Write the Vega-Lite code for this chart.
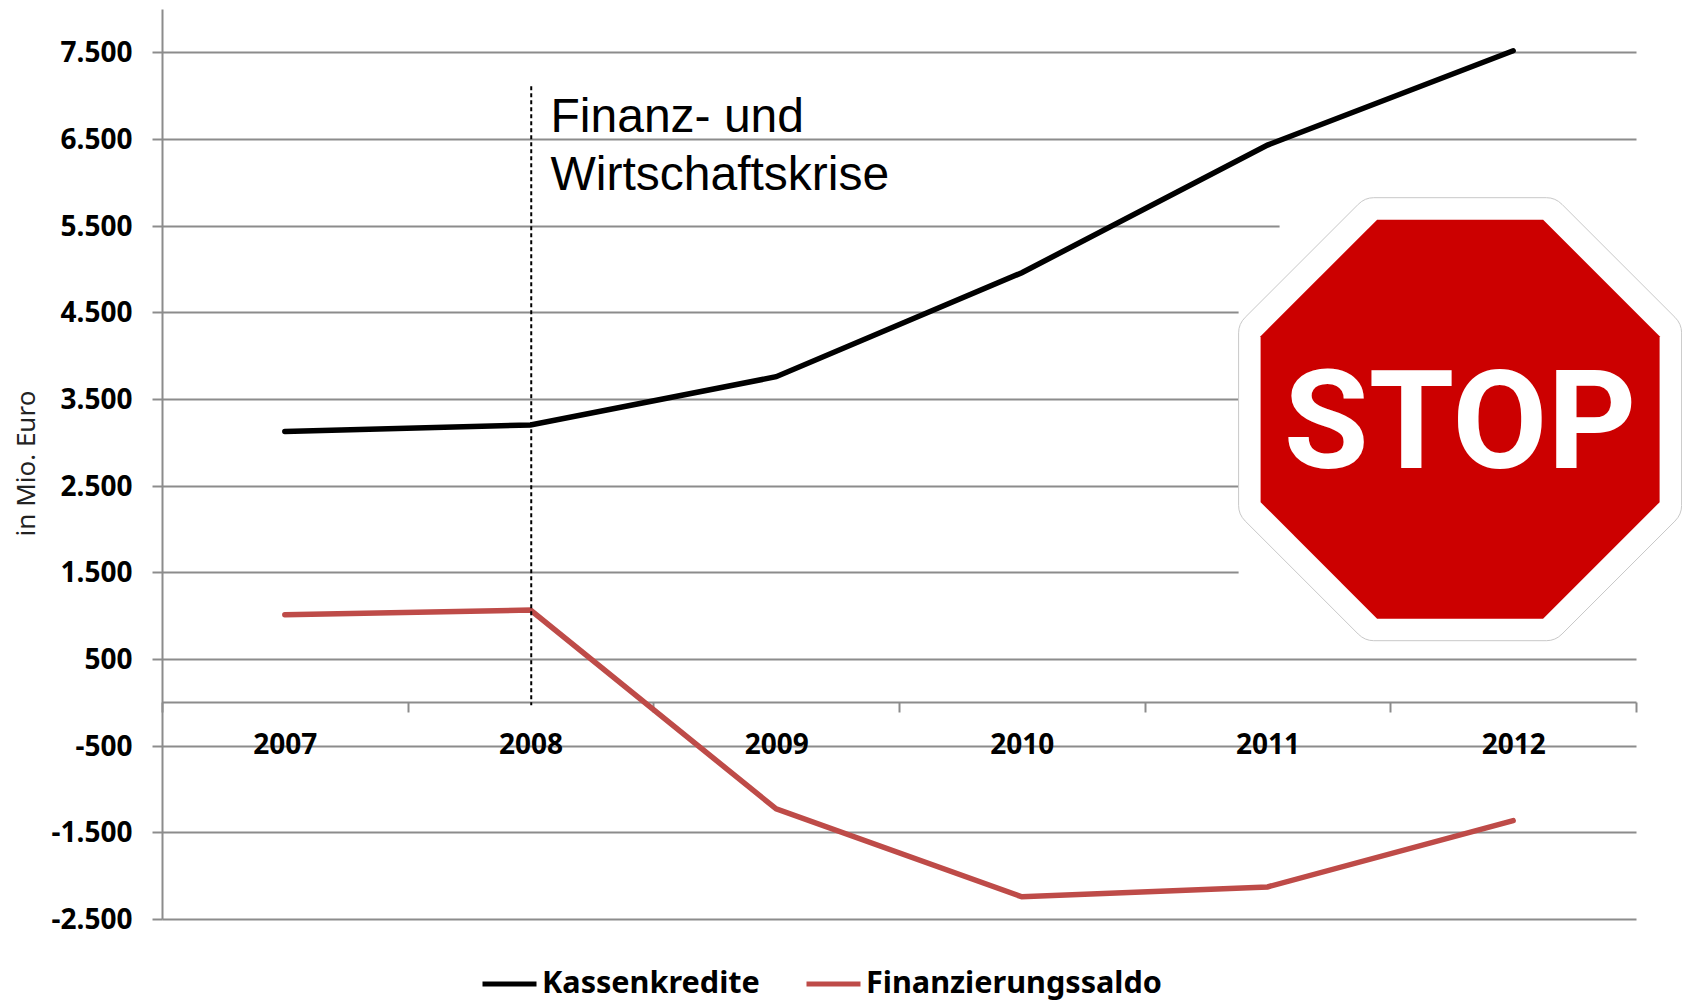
{
"$schema":"https://vega.github.io/schema/vega-lite/v6.json",
"width":1474,"height":910,
"autosize":{"type":"none"},
"padding":{"left":162,"top":9,"right":46,"bottom":82},
"background":"#ffffff",
"config":{"view":{"stroke":null},"font":"Noto Sans"},
"encoding":{
"x":{"field":"year","type":"nominal","title":null,"scale":{"type":"band","paddingInner":0,"paddingOuter":0},
"axis":{"orient":"bottom","offset":-217,"tickBand":"extent","tickSize":10,"tickColor":"#8c8c8c","tickWidth":2,"domainColor":"#8c8c8c","domainWidth":2,"labelAngle":0,"labelFontSize":28,"labelFontWeight":"bold","labelColor":"#000000","labelPadding":19.5,"labelFont":"Noto Sans","grid":false}},
"y":{"field":"wert","type":"quantitative","title":"in Mio. Euro","scale":{"domain":[-2500,8000],"nice":false,"zero":false},
"axis":{"values":[7500,6500,5500,4500,3500,2500,1500,500,-500,-1500,-2500],"labelExpr":"(datum.value<0?'-':'')+replace(format(abs(datum.value),','),',','.')","grid":true,"gridColor":"#8c8c8c","gridWidth":2,"tickSize":10,"tickColor":"#8c8c8c","tickWidth":2,"domainColor":"#8c8c8c","domainWidth":2,"labelFontSize":28,"labelFontWeight":"bold","labelColor":"#000000","labelPadding":20,"labelOffset":1.5,"labelFont":"Noto Sans","titleFont":"Noto Sans","titleFontSize":26,"titleFontWeight":"normal","titleColor":"#222222","titleAngle":-90,"titleX":-136,"titleY":454,"titleAlign":"center","titleBaseline":"middle"}}
},
"layer":[
{"data":{"values":[
{"year":"2007","serie":"Kassenkredite","wert":3126},
{"year":"2008","serie":"Kassenkredite","wert":3200},
{"year":"2009","serie":"Kassenkredite","wert":3757},
{"year":"2010","serie":"Kassenkredite","wert":4957},
{"year":"2011","serie":"Kassenkredite","wert":6430},
{"year":"2012","serie":"Kassenkredite","wert":7518},
{"year":"2007","serie":"Finanzierungssaldo","wert":1012},
{"year":"2008","serie":"Finanzierungssaldo","wert":1065},
{"year":"2009","serie":"Finanzierungssaldo","wert":-1230},
{"year":"2010","serie":"Finanzierungssaldo","wert":-2244},
{"year":"2011","serie":"Finanzierungssaldo","wert":-2130},
{"year":"2012","serie":"Finanzierungssaldo","wert":-1365}
]},
"mark":{"type":"line","strokeWidth":5.5,"strokeCap":"round"},
"encoding":{
"color":{"field":"serie","type":"nominal","sort":null,"scale":{"domain":["Kassenkredite","Finanzierungssaldo"],"range":["#000000","#be4b48"]},
"legend":{"title":null,"orient":"none","direction":"horizontal","legendX":318,"legendY":945,"symbolType":"stroke","symbolSize":2916,"symbolStrokeWidth":5,"labelFontSize":30.6,"labelFontWeight":"bold","labelColor":"#000000","labelFont":"Noto Sans","labelOffset":3,"columnPadding":36,"labelLimit":400}}
}},
{"data":{"values":[{"year":"2008","wert":7108,"bis":-35}]},
"mark":{"type":"rule","stroke":"#000000","strokeWidth":2,"strokeDash":[4,3]},
"encoding":{"x":{"field":"year","type":"nominal","bandPosition":0.503,"title":null},"y2":{"field":"bis"}}},
{"data":{"values":[{"year":"2008","wert":6737,"text":"Finanz- und"},{"year":"2008","wert":6068,"text":"Wirtschaftskrise"}]},
"mark":{"type":"text","font":"Liberation Sans","fontSize":48,"align":"left","baseline":"middle","dx":20,"color":"#000000"},
"encoding":{"text":{"field":"text"}}},
{"data":{"values":[{"year":"2012","wert":3267}]},
"mark":{"type":"point","filled":true,"opacity":1,"fill":"#ffffff","strokeWidth":0,"size":196249,"shape":"M-.815,-1L1,-1L1,1L-1,1L-1,-.6L-.815,-.6Z"},
"encoding":{"x":{"field":"year","type":"nominal","bandPosition":0.284,"title":null}}},
{"data":{"values":[{"year":"2012","wert":3267}]},
"mark":{"type":"point","filled":true,"opacity":1,"fill":"#ffffff","stroke":"#c8c8c8","strokeWidth":1,"size":196249,"shape":"M-.39,-1L.39,-1Q.43,-1 .46,-.97L.97,-.46Q1,-.43 1,-.39L1,.39Q1,.43 .97,.46L.46,.97Q.43,1 .39,1L-.39,1Q-.43,1 -.46,.97L-.97,.46Q-1,.43 -1,.39L-1,-.39Q-1,-.43 -.97,-.46L-.46,-.97Q-.43,-1 -.39,-1Z"},
"encoding":{"x":{"field":"year","type":"nominal","bandPosition":0.284,"title":null}}},
{"data":{"values":[{"year":"2012","wert":3267}]},
"mark":{"type":"point","filled":true,"opacity":1,"fill":"#cc0000","size":159201,"shape":"M-.416,-1L.416,-1L1,-.416L1,.416L.416,1L-.416,1L-1,.416L-1,-.416Z"},
"encoding":{"x":{"field":"year","type":"nominal","bandPosition":0.284,"title":null}}},
{"data":{"values":[{"year":"2012","wert":3267,"text":"STOP"}]},
"mark":{"type":"text","font":"Roboto","fontWeight":"bold","fontSize":138,"align":"center","baseline":"middle","dy":8,"color":"#ffffff"},
"encoding":{"x":{"field":"year","type":"nominal","bandPosition":0.284,"title":null},"text":{"field":"text"}}}
]
}
